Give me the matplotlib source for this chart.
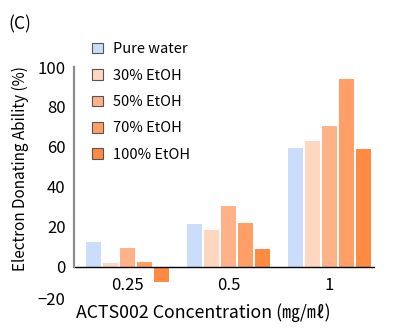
import numpy as np
import matplotlib.pyplot as plt
import matplotlib.transforms as mtransforms
from matplotlib.patches import Patch

plt.rcParams['font.family'] = ['Noto Sans CJK KR', 'DejaVu Sans']

concentrations = ['0.25', '0.5', '1']
solvents = ['Pure water', '30% EtOH', '50% EtOH', '70% EtOH', '100% EtOH']
colors = ['#cadefb', '#ffd7c1', '#ffb187', '#ff9f67', '#ff8a42']
pure_water = [12.5, 21.5, 59.5]
etoh_30 = [2.0, 18.5, 63.0]
etoh_50 = [9.5, 30.5, 70.5]
etoh_70 = [2.5, 22.0, 94.0]
etoh_100 = [-7.5, 9.0, 59.0]
values = [pure_water, etoh_30, etoh_50, etoh_70, etoh_100]

fig = plt.figure(figsize=(4.0, 3.35), dpi=100)
ax = fig.add_axes([0.185, 0.084, 0.7525, 0.716])

x = np.arange(len(concentrations))
pitch = 0.168
width = 0.1485
for i, (name, col) in enumerate(zip(solvents, colors)):
    ax.bar(x + (i - 2) * pitch, values[i], width, color=col, label=name)

ax.axhline(0, color='black', lw=1.0)
ax.set_xlim(-0.53, 2.45)
ax.set_ylim(-20, 100)
ax.set_yticks([-20, 0, 20, 40, 60, 80, 100])
ax.set_xticks(x)
ax.set_xticklabels(concentrations)
ax.tick_params(length=0, labelsize=12, pad=6)
ax.tick_params(axis='x', pad=7)

# lift the lowest y label a touch
lab = ax.get_yticklabels()[0]
lab.set_transform(lab.get_transform() + mtransforms.ScaledTranslation(0, 6 / 72, fig.dpi_scale_trans))

for s in ['top', 'right']:
    ax.spines[s].set_visible(False)
# category labels sit right under the zero line
ax.spines['bottom'].set_position(('data', 0))
ax.spines['bottom'].set_visible(False)
ax.spines['left'].set_color('#8c8c8c')
ax.spines['left'].set_linewidth(1.6)
ax.spines['left'].set_bounds(0, 100)

ax.set_xlabel('ACTS002 Concentration (㎎/㎖)', fontsize=12.8)
ax.xaxis.set_label_coords(0.43, 0.017)
ax.set_ylabel('Electron Donating Ability (%)', fontsize=11)
ax.yaxis.set_label_coords(-0.15, 0.575)

handles = [Patch(facecolor=c, edgecolor='#555555', lw=0.8) for c in colors]
fig.legend(handles, solvents, loc='upper left', bbox_to_anchor=(0.23, 0.874),
           frameon=False, fontsize=10.5, handlelength=0.75, handleheight=0.75,
           handletextpad=0.7, labelspacing=0.85, borderpad=0, borderaxespad=0)

fig.text(0.02, 0.955, '(C)', fontsize=12.5, va='top', ha='left')

fig.savefig('out.png', dpi=100)
